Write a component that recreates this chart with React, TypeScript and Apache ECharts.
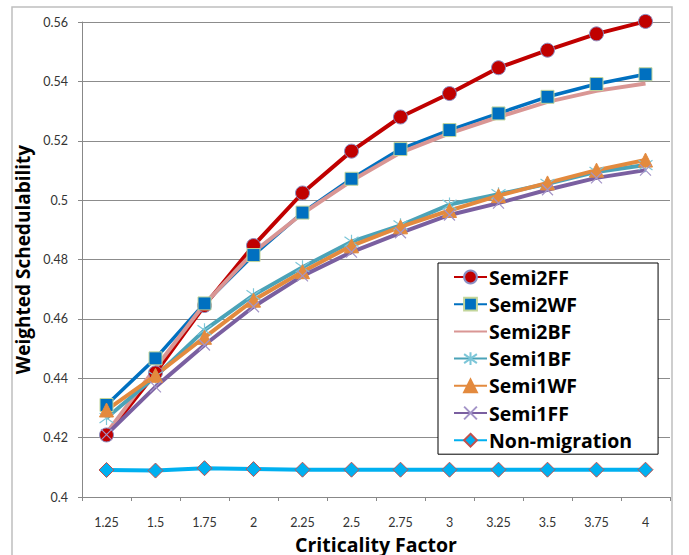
import React, { useEffect, useRef } from "react";
import * as echarts from "echarts";

const categories = ["1.25", "1.5", "1.75", "2", "2.25", "2.5", "2.75", "3", "3.25", "3.5", "3.75", "4"];
const semi2FF = [0.4209, 0.4418, 0.4645, 0.4847, 0.5024, 0.5165, 0.528, 0.5359, 0.5446, 0.5505, 0.556, 0.5602];
const semi2WF = [0.431, 0.4467, 0.4652, 0.4815, 0.4958, 0.5072, 0.5172, 0.5236, 0.5292, 0.5348, 0.5391, 0.5424];
const semi2BF = [0.4215, 0.4435, 0.465, 0.4825, 0.4955, 0.5065, 0.516, 0.5225, 0.528, 0.5331, 0.5368, 0.5393];
const semi1BF = [0.4266, 0.4406, 0.4562, 0.468, 0.4774, 0.486, 0.4915, 0.4985, 0.502, 0.5055, 0.5095, 0.5118];
const semi1WF = [0.4293, 0.441, 0.4538, 0.4663, 0.4759, 0.4846, 0.491, 0.4965, 0.5015, 0.5058, 0.5101, 0.5135];
const semi1FF = [0.421, 0.4371, 0.4512, 0.4641, 0.4745, 0.4825, 0.489, 0.495, 0.499, 0.5035, 0.5075, 0.5101];
const nonMigration = [0.4091, 0.4089, 0.4097, 0.4094, 0.4092, 0.4092, 0.4092, 0.4092, 0.4092, 0.4092, 0.4092, 0.4092];

const FONT = "Lato, 'Open Sans', sans-serif";
const BOLDFONT = "'Open Sans', Lato, sans-serif";
const ASTERISK = "path://M10,0 L10,20 M1,3 L19,17 M19,3 L1,17";
const XMARK = "path://M0,0 L20,20 M20,0 L0,20";

export default function App() {
  const ref = useRef<HTMLDivElement>(null);
  useEffect(() => {
    if (!ref.current) return;
    const chart = echarts.init(ref.current, undefined, { renderer: "svg" });
    const mk = (name: string, data: number[], color: string, width: number, symbol: string, symbolSize: number, itemStyle: any) => ({
      name,
      type: "line",
      data,
      symbol,
      symbolSize,
      showAllSymbol: true,
      clip: false,
      lineStyle: { color, width },
      itemStyle,
      emphasis: { disabled: true },
    });
    chart.setOption({
      animation: false,
      backgroundColor: "#ffffff",
      textStyle: { fontFamily: FONT },
      graphic: [
        {
          type: "rect",
          shape: { x: 12, y: 7, width: 660, height: 560 },
          style: { fill: "none", stroke: "#bfbfbf", lineWidth: 1.5 },
          silent: true,
          z: -1,
        },
      ],
      grid: { left: 82, right: 19, top: 22, bottom: 58, outerBoundsMode: "none", containLabel: false },
      legend: {
        orient: "vertical",
        left: 438,
        top: 263,
        padding: [4, 26, 4, 15],
        itemGap: 7.2,
        itemWidth: 33,
        itemHeight: 16,
        borderColor: "#000000",
        borderWidth: 1,
        backgroundColor: "#ffffff",
        textStyle: { fontSize: 19.5, fontWeight: "bold", color: "#000000", fontFamily: BOLDFONT, lineHeight: 20, padding: [0, 0, 0, -3] },
        data: [
          "Semi2FF",
          "Semi2WF",
          { name: "Semi2BF", itemStyle: { opacity: 0 } },
          "Semi1BF",
          "Semi1WF",
          "Semi1FF",
          "Non-migration",
        ],
      },
      xAxis: {
        type: "category",
        data: categories,
        boundaryGap: true,
        name: "Criticality Factor",
        nameLocation: "middle",
        nameGap: 25,
        nameTextStyle: { fontSize: 19.5, lineHeight: 22, fontWeight: "bold", color: "#000000", fontFamily: BOLDFONT },
        axisLine: { lineStyle: { color: "#888888", width: 1 } },
        axisTick: { show: true, length: 4, lineStyle: { color: "#888888" } },
        axisLabel: { fontSize: 12.5, color: "#333333", margin: 19, fontFamily: FONT },
        splitLine: { show: false },
      },
      yAxis: {
        type: "value",
        min: 0.4,
        max: 0.56,
        interval: 0.02,
        name: "Weighted Schedulability",
        nameLocation: "middle",
        nameGap: 44,
        nameTextStyle: { fontSize: 19, fontWeight: "bold", color: "#000000", fontFamily: BOLDFONT },
        axisLine: { show: true, lineStyle: { color: "#888888", width: 1 } },
        axisTick: { show: true, length: 4, lineStyle: { color: "#888888" } },
        axisLabel: {
          fontSize: 12.5,
          color: "#333333",
          margin: 14,
          fontFamily: FONT,
          formatter: (v: number) => String(parseFloat(v.toFixed(2))),
        },
        splitLine: { show: true, lineStyle: { color: "#8c8c8c", width: 1 } },
      },
      series: [
        mk("Semi2FF", semi2FF, "#C00000", 4, "circle", 14, { color: "#C00000", borderColor: "#8a8fc4", borderWidth: 1 }),
        mk("Semi2WF", semi2WF, "#0070C0", 3.5, "rect", 13, { color: "#0070C0", borderColor: "#c3d69b", borderWidth: 1 }),
        mk("Semi2BF", semi2BF, "#D99694", 4, "none", 0, { color: "#D99694" }),
        mk("Semi1BF", semi1BF, "#4BA3B8", 4, ASTERISK, 14, { color: "#4BA3B8", borderColor: "#7cc6d8", borderWidth: 1.2 }),
        mk("Semi1WF", semi1WF, "#E38A3E", 4, "triangle", 14, { color: "#E38A3E", borderColor: "#E38A3E", borderWidth: 1 }),
        mk("Semi1FF", semi1FF, "#7A5FA0", 4, XMARK, 11, { color: "#7A5FA0", borderColor: "#a394c8", borderWidth: 1.2 }),
        mk("Non-migration", nonMigration, "#00B0F0", 4, "diamond", 15, { color: "#00B0F0", borderColor: "#c0504d", borderWidth: 1 }),
      ],
    });
    return () => chart.dispose();
  }, []);
  return <div ref={ref} style={{ width: 689, height: 555, position: "absolute", left: 0, top: 0 }} />;
}
